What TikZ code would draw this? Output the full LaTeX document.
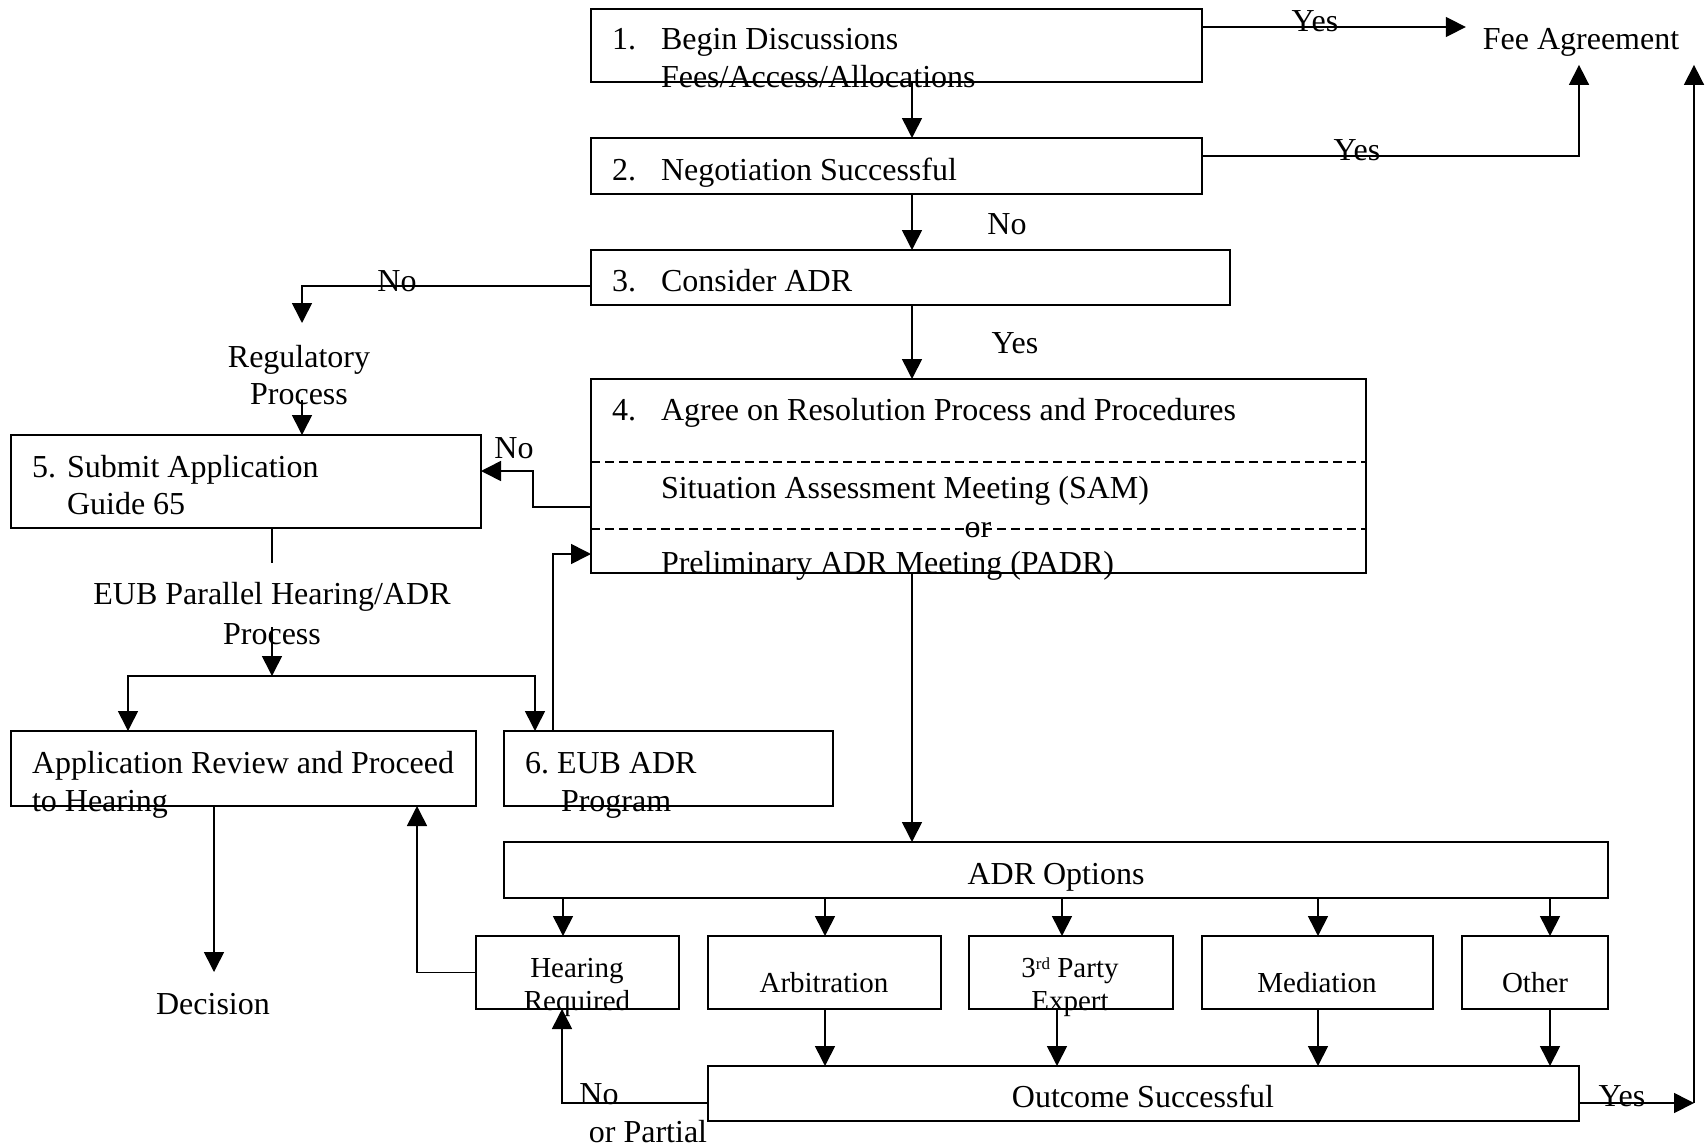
\documentclass[tikz,border=0pt]{standalone}
\usepackage{fontspec}
\setmainfont{Liberation Serif}
\usetikzlibrary{arrows.meta,calc}
\begin{document}
\begin{tikzpicture}[x=1pt,y=-1pt,
  box/.style={draw, line width=1.6pt, inner sep=0pt, outer sep=0pt},
  arr/.style={line width=1.6pt, -{Triangle[length=20pt,width=20pt]}},
  ln/.style={line width=1.6pt},
  tx/.style={inner sep=0pt, outer sep=0pt, font=\fontsize{32}{37}\selectfont, anchor=base west},
  txc/.style={tx, anchor=base},
  tso/.style={txc, font=\fontsize{29}{33}\selectfont},
  dsh/.style={line width=1.3pt, dash pattern=on 9pt off 5pt}
]
\useasboundingbox (0,0) rectangle (1707,1146);

% ---------- boxes ----------
\node[box, minimum width=611pt, minimum height=73pt] (b1) at (896.5,45.5) {};
\node[box, minimum width=611pt, minimum height=56pt] (b2) at (896.5,166) {};
\node[box, minimum width=639pt, minimum height=55pt] (b3) at (910.5,277.5) {};
\node[box, minimum width=775pt, minimum height=194pt] (b4) at (978.5,476) {};
\node[box, minimum width=470pt, minimum height=93pt] (b5) at (246,481.5) {};
\node[box, minimum width=465pt, minimum height=75pt] (bapp) at (243.5,768.5) {};
\node[box, minimum width=329pt, minimum height=75pt] (b6) at (668.5,768.5) {};
\node[box, minimum width=1104pt, minimum height=56pt] (bopt) at (1056,870) {};
\node[box, minimum width=203pt, minimum height=73pt] (bhr) at (577.5,972.5) {};
\node[box, minimum width=233pt, minimum height=73pt] (barb) at (824.5,972.5) {};
\node[box, minimum width=204pt, minimum height=73pt] (b3rd) at (1071,972.5) {};
\node[box, minimum width=231pt, minimum height=73pt] (bmed) at (1317.5,972.5) {};
\node[box, minimum width=146pt, minimum height=73pt] (both) at (1535,972.5) {};
\node[box, minimum width=871pt, minimum height=55pt] (bout) at (1143.5,1093.5) {};

% dashed separators in box 4
\draw[dsh] (b4.west |- 0,462) -- (b4.east |- 0,462);
\draw[dsh] (b4.west |- 0,529) -- (b4.east |- 0,529);

% ---------- texts ----------
\node[tx] (t1n) at (612,49) {1.};
\node[tx] (t1a) at (661,49) {Begin Discussions};
\node[tx] (t1b) at (661,87) {Fees/Access/Allocations};
\node[tx] (t2n) at (612,180) {2.};
\node[tx] (t2a) at (661,180) {Negotiation Successful};
\node[tx] (t3n) at (612,291) {3.};
\node[tx] (t3a) at (661,291) {Consider ADR};
\node[tx] (t4n) at (612,420) {4.};
\node[tx] (t4a) at (661,420) {Agree on Resolution Process and Procedures};
\node[tx] (t4b) at (661,498) {Situation Assessment Meeting (SAM)};
\node[txc] (t4or) at (978,537) {or};
\node[tx] (t4c) at (661,573) {Preliminary ADR Meeting (PADR)};
\node[txc, inner xsep=17pt, inner ysep=9pt] (fee) at (1581,49) {Fee Agreement};
\node[txc] (yes1) at (1315,31) {Yes};
\node[txc] (yes2) at (1357,160) {Yes};
\node[txc] (no2) at (1007,234) {No};
\node[txc] (yes3) at (1015,353) {Yes};
\node[txc] (no3) at (397,291) {No};
\node[txc] (reg1) at (299,367) {Regulatory};
\node[txc] (reg2) at (299,404) {Process};
\node[txc] (no4) at (514,458) {No};
\node[tx] (t5n) at (32,477) {5.};
\node[tx] (t5a) at (67,477) {Submit Application};
\node[tx] (t5b) at (67,514) {Guide 65};
\node[txc] (eub1) at (272,604) {EUB Parallel Hearing/ADR};
\node[txc] (eub2) at (272,644) {Process};
\node[tx] (tapp1) at (32,773) {Application Review and Proceed};
\node[tx] (tapp2) at (32,811) {to Hearing};
\node[tx] (t6a) at (525,773) {6.\ EUB ADR};
\node[tx] (t6b) at (561,811) {Program};
\node[txc] (dec) at (213,1014) {Decision};
\node[txc] (topt) at (1056,884) {ADR Options};
\node[tso] (thr1) at (577,977) {Hearing};
\node[tso] (thr2) at (577,1010) {Required};
\node[tso] (tarb) at (824,992) {Arbitration};
\node[tso] (t3p1) at (1070,977) {3\raisebox{8pt}{\fontsize{17}{17}\selectfont rd} Party};
\node[tso] (t3p2) at (1070,1010) {Expert};
\node[tso] (tmed) at (1317,992) {Mediation};
\node[tso] (toth) at (1535,992) {Other};
\node[txc] (tout) at (1143,1107) {Outcome Successful};
\node[txc] (noP1) at (599,1104) {No};
\node[txc] (noP2) at (648,1142) {or Partial};
\node[txc] (yes4) at (1622,1106) {Yes};

% ---------- helper coordinates ----------
\coordinate (x912) at (912,0);
\coordinate (y27) at (0,27);
\coordinate (y156) at (0,156);
\coordinate (x1579) at (1579,0);
\coordinate (x1694) at (1694,0);
\coordinate (y1103) at (0,1103);
\coordinate (cR) at (1694,1103);
\coordinate (y286) at (0,286);
\coordinate (cReg) at (302,323);
\coordinate (cReg2) at (302,400);
\coordinate (y507) at (0,507);
\coordinate (cA) at (533,471);
\coordinate (x553) at (553,0);
\coordinate (y554) at (0,554);
\coordinate (x272) at (272,0);
\coordinate (c272a) at (272,563);
\coordinate (c272b) at (272,627);
\coordinate (c272c) at (272,676);
\coordinate (x128) at (128,0);
\coordinate (x535) at (535,0);
\coordinate (x214) at (214,0);
\coordinate (cDec) at (214,972);
\coordinate (x417) at (417,0);
\coordinate (x563) at (563,0);
\coordinate (x825) at (825,0);
\coordinate (x1062) at (1062,0);
\coordinate (x1057) at (1057,0);
\coordinate (x1318) at (1318,0);
\coordinate (x1550) at (1550,0);
\coordinate (x562) at (562,0);

% ---------- connectors ----------
\draw[arr] (b1.south -| x912) -- (b2.north -| x912);
\draw[arr] (b2.south -| x912) -- (b3.north -| x912);
\draw[arr] (b3.south -| x912) -- (b4.north -| x912);
\draw[arr] (b4.south -| x912) -- (bopt.north -| x912);
\draw[arr] (b1.east |- y27) -- (fee.west |- y27);
\draw[arr] (b2.east |- y156) -| (fee.south -| x1579);
\draw[arr] (bout.east |- y1103) -- (cR);
\draw[arr] (cR) -- (fee.south -| x1694);
\draw[arr] (b3.west |- y286) -| (cReg);
\draw[arr] (cReg2) -- (b5.north -| cReg2);
\draw[arr] (b4.west |- y507) -| (cA) -- (b5.east |- cA);
\draw[arr] (b6.north -| x553) |- (b4.west |- y554);
\draw[ln] (b5.south -| x272) -- (c272a);
\draw[arr] (c272b) -- (c272c);
\draw[arr] (c272c) -| (bapp.north -| x128);
\draw[arr] (c272c) -| (b6.north -| x535);
\draw[arr] (bapp.south -| x214) -- (cDec);
\draw[arr] (bhr.west) -| (bapp.south -| x417);
\draw[arr] (bopt.south -| x563) -- (bhr.north -| x563);
\draw[arr] (bopt.south -| x825) -- (barb.north -| x825);
\draw[arr] (bopt.south -| x1062) -- (b3rd.north -| x1062);
\draw[arr] (bopt.south -| x1318) -- (bmed.north -| x1318);
\draw[arr] (bopt.south -| x1550) -- (both.north -| x1550);
\draw[arr] (barb.south -| x825) -- (bout.north -| x825);
\draw[arr] (b3rd.south -| x1057) -- (bout.north -| x1057);
\draw[arr] (bmed.south -| x1318) -- (bout.north -| x1318);
\draw[arr] (both.south -| x1550) -- (bout.north -| x1550);
\draw[arr] (bout.west |- y1103) -| (bhr.south -| x562);
\end{tikzpicture}
\end{document}
